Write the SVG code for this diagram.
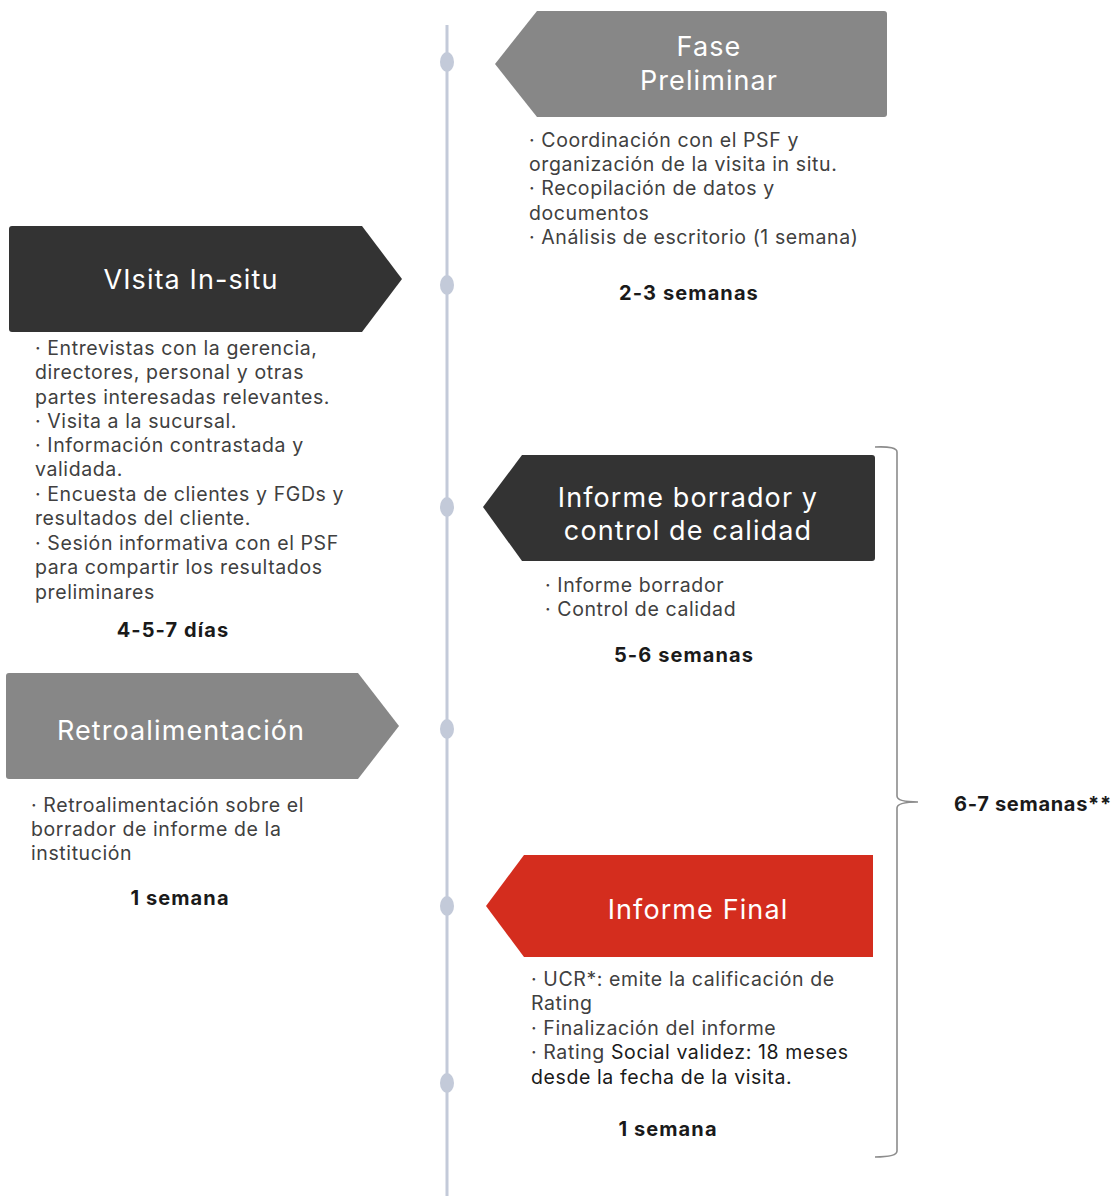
<svg xmlns="http://www.w3.org/2000/svg" width="1115" height="1196" viewBox="0 0 1115 1196">
<style>
.title{font-family:Inter,"Open Sans",sans-serif;font-size:27px;letter-spacing:1.1px;fill:#ffffff;text-anchor:middle;}
.b{font-family:Inter,"Open Sans",sans-serif;font-size:19.5px;letter-spacing:0.6px;fill:#404040;}
.d{fill:#1a1a1a;}
.bold{font-family:Inter,"Open Sans",sans-serif;font-size:20px;letter-spacing:1.1px;font-weight:700;fill:#1a1a1a;text-anchor:middle;}
.dot{fill:#c3cad9;}
</style>
<g id="timeline">
<line x1="447" y1="25" x2="447" y2="1196" stroke="#c3cad9" stroke-width="3"/>
<ellipse class="dot" cx="447" cy="62" rx="7" ry="10"/>
<ellipse class="dot" cx="447" cy="285" rx="7" ry="10"/>
<ellipse class="dot" cx="447" cy="507" rx="7" ry="10"/>
<ellipse class="dot" cx="447" cy="729" rx="7" ry="10"/>
<ellipse class="dot" cx="447" cy="906" rx="7" ry="10"/>
<ellipse class="dot" cx="447" cy="1083" rx="7" ry="10"/>
</g>
<g id="fase-preliminar">
<path d="M537,11 L884,11 Q887,11 887,14 L887,114 Q887,117 884,117 L537,117 L495,64 Z" fill="#878787"/>
<text class="title" x="709" y="56">Fase</text>
<text class="title" x="709" y="90">Preliminar</text>
<text class="b" x="529" y="147">· Coordinación con el PSF y</text>
<text class="b" x="529" y="171">organización de la visita in situ.</text>
<text class="b" x="529" y="195">· Recopilación de datos y</text>
<text class="b" x="529" y="220">documentos</text>
<text class="b" x="529" y="244">· Análisis de escritorio (1 semana)</text>
<text class="bold" x="689" y="300">2-3 semanas</text>
</g>
<g id="visita-in-situ">
<path d="M12,226 L362,226 L402,279 L362,332 L12,332 Q9,332 9,329 L9,229 Q9,226 12,226 Z" fill="#333333"/>
<text class="title" x="191" y="289">VIsita In-situ</text>
<text class="b" x="35" y="355">· Entrevistas con la gerencia,</text>
<text class="b" x="35" y="379">directores, personal y otras</text>
<text class="b" x="35" y="404">partes interesadas relevantes.</text>
<text class="b" x="35" y="428">· Visita a la sucursal.</text>
<text class="b" x="35" y="452">· Información contrastada y</text>
<text class="b" x="35" y="476">validada.</text>
<text class="b" x="35" y="501">· Encuesta de clientes y FGDs y</text>
<text class="b" x="35" y="525">resultados del cliente.</text>
<text class="b" x="35" y="550">· Sesión informativa con el PSF</text>
<text class="b" x="35" y="574">para compartir los resultados</text>
<text class="b" x="35" y="599">preliminares</text>
<text class="bold" x="173" y="637">4-5-7 días</text>
</g>
<g id="informe-borrador">
<path d="M522,455 L872,455 Q875,455 875,458 L875,558 Q875,561 872,561 L522,561 L483,507 Z" fill="#333333"/>
<text class="title" x="688" y="507">Informe borrador y</text>
<text class="title" x="688" y="540">control de calidad</text>
<text class="b" x="545" y="592">· Informe borrador</text>
<text class="b" x="545" y="616">· Control de calidad</text>
<text class="bold" x="684" y="662">5-6 semanas</text>
</g>
<g id="retroalimentacion">
<path d="M9,673 L358,673 L399,726 L358,779 L9,779 Q6,779 6,776 L6,676 Q6,673 9,673 Z" fill="#878787"/>
<text class="title" x="181" y="740">Retroalimentación</text>
<text class="b" x="31" y="812">· Retroalimentación sobre el</text>
<text class="b" x="31" y="836">borrador de informe de la</text>
<text class="b" x="31" y="860">institución</text>
<text class="bold" x="180" y="905">1 semana</text>
</g>
<g id="informe-final">
<path d="M524,855 L873,855 L873,957 L524,957 L486,906 Z" fill="#d42d1e"/>
<text class="title" x="698" y="919">Informe Final</text>
<text class="b" x="531" y="986">· UCR*: emite la calificación de</text>
<text class="b" x="531" y="1010">Rating</text>
<text class="b" x="531" y="1035">· Finalización del informe</text>
<text class="b" x="531" y="1059">· Rating <tspan class="d">Social validez: 18 meses</tspan></text>
<text class="b d" x="531" y="1084">desde la fecha de la visita.</text>
<text class="bold" x="668" y="1136">1 semana</text>
</g>
<g id="connectors">
<path d="M875,447 Q897,446 897,452 L897,796 Q897,802 918,802 Q897,802 897,808 L897,1151 Q897,1157 875,1157" fill="none" stroke="#8c8c8c" stroke-width="1.6"/>
</g>
<g id="total">
<text class="bold" x="954" y="811" style="text-anchor:start;letter-spacing:0.7px">6-7 semanas**</text>
</g>
</svg>
